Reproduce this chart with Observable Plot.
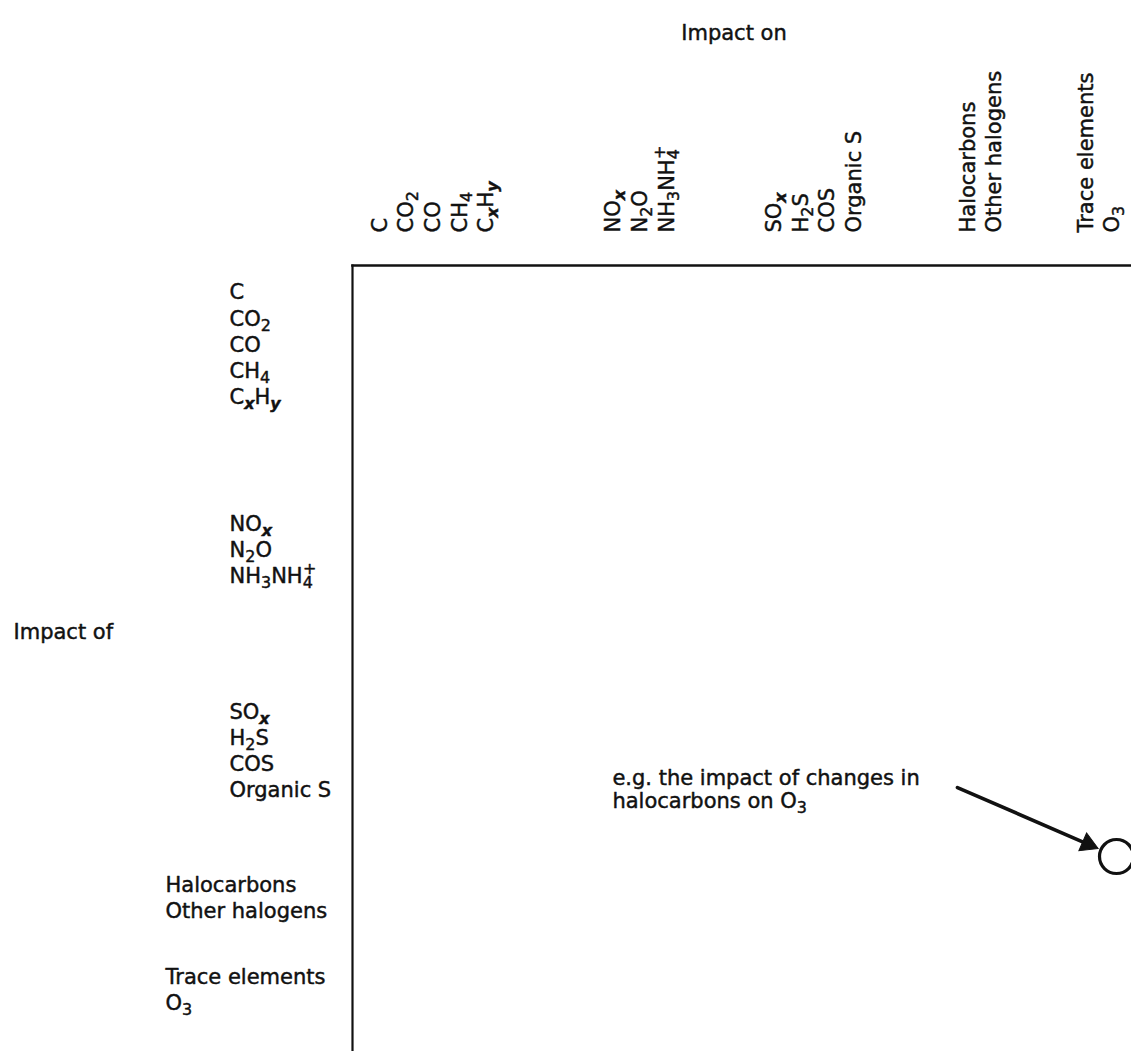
<!DOCTYPE html>
<html>
<head>
<meta charset="utf-8">
<script src="https://cdn.jsdelivr.net/npm/d3@7"></script>
<script src="https://cdn.jsdelivr.net/npm/@observablehq/plot@0.6"></script>
<style>
  html, body { margin: 0; padding: 0; background: #fff; }
  #chart svg { display: block; }
</style>
</head>
<body>
<div id="chart"></div>
<script>
// ---- content (markup: _c = subscript char, ^c = superscript char) ----
const carbonSpecies   = ["C", "CO_2", "CO", "CH_4", "C_xH_y"];
const nitrogenSpecies = ["NO_x", "N_2O", "NH_3NH_4^+"];
const sulphurSpecies  = ["SO_x", "H_2S", "COS", "Organic S"];
const halogenSpecies  = ["Halocarbons", "Other halogens"];
const otherSpecies    = ["Trace elements", "O_3"];
const speciesGroups   = [carbonSpecies, nitrogenSpecies, sulphurSpecies, halogenSpecies, otherSpecies];

const columnTitle = "Impact on";
const rowTitle    = "Impact of";
const noteLines   = ["e.g. the impact of changes in", "halocarbons on O_3"];

// ---- derived table ----
const groups = speciesGroups.map((lines, i) => ({i, text: lines.join("\n")}));

// scales: group index -> position of that group's block
const xOpts = {type: "linear", domain: [0, 1, 2, 3, 4], range: [431, 638, 812, 979, 1097]};
const yOpts = {type: "linear", domain: [0, 1, 2, 3, 4], range: [343, 548, 749, 896, 988]};

// annotation placement, in group-index units of the two scales
const note   = {x: 0.874, y: 2.269, text: noteLines.join("\n")};
const target = {x: 4.161, y: 2.728};
const arrowFrom = {x: 2.868, y: 2.259};

// arrow geometry derived through the scales (line + filled head)
const sx = Plot.scale({x: xOpts}), sy = Plot.scale({y: yOpts});
const P1 = [sx.apply(arrowFrom.x), sy.apply(arrowFrom.y)];
const P2 = [sx.apply(target.x), sy.apply(target.y)];
const len = Math.hypot(P2[0] - P1[0], P2[1] - P1[1]);
const ux = (P2[0] - P1[0]) / len, uy = (P2[1] - P1[1]) / len;
const gap = 20, headR = 7.2, headH = headR * Math.sqrt(Math.PI * 4 / Math.sqrt(3)) * Math.sqrt(3) / 2;
const tip = [P2[0] - gap * ux, P2[1] - gap * uy];
const headC = [tip[0] - headH * 2 / 3 * ux, tip[1] - headH * 2 / 3 * uy];
const lineEnd = [tip[0] - headH * 0.6 * ux, tip[1] - headH * 0.6 * uy];
const arrowLine = {x1: arrowFrom.x, y1: arrowFrom.y, x2: sx.invert(lineEnd[0]), y2: sy.invert(lineEnd[1])};
const arrowHead = {x: sx.invert(headC[0]), y: sy.invert(headC[1]), angle: Math.atan2(uy, ux) * 180 / Math.PI + 90};

const FS = 21;
const INK = "#111";
const textStyle = {fill: INK, stroke: INK, strokeWidth: 0.45};

const chart = Plot.plot({
  width: 1131,
  height: 1051,
  marginTop: 265,
  marginLeft: 352,
  marginRight: 0,
  marginBottom: 0,
  style: {fontFamily: "'DejaVu Sans', sans-serif", fontSize: FS + "px", background: "#fff", color: INK},
  x: {...xOpts, axis: null},
  y: {...yOpts, axis: null},
  marks: [
    Plot.frame({anchor: "top", stroke: INK, strokeWidth: 2.6}),
    Plot.frame({anchor: "left", stroke: INK, strokeWidth: 2.2}),
    // column headings (rotated)
    Plot.text(groups, {
      x: "i", frameAnchor: "top", dy: -33, text: "text", rotate: -90,
      textAnchor: "start", lineAnchor: "middle", lineHeight: 1.27, fontSize: FS, ...textStyle
    }),
    // row headings
    Plot.text(groups.filter(d => d.i < 3), {
      y: "i", frameAnchor: "left", dx: -123, text: "text",
      textAnchor: "start", lineAnchor: "middle", lineHeight: 1.25, fontSize: FS, ...textStyle
    }),
    Plot.text(groups.filter(d => d.i >= 3), {
      y: "i", frameAnchor: "left", dx: -187, text: "text",
      textAnchor: "start", lineAnchor: "middle", lineHeight: 1.27, fontSize: FS, ...textStyle
    }),
    // titles
    Plot.text([columnTitle], {frameAnchor: "top", dx: -8, dy: -240, text: d => d, fontSize: FS, ...textStyle}),
    Plot.text([rowTitle], {frameAnchor: "left", dx: -339, dy: -26, text: d => d, textAnchor: "start", fontSize: FS, ...textStyle}),
    // example annotation
    Plot.text([note], {x: "x", y: "y", text: "text", textAnchor: "start", lineAnchor: "middle", lineHeight: 1.1, fontSize: FS, ...textStyle}),
    Plot.link([arrowLine], {x1: "x1", y1: "y1", x2: "x2", y2: "y2", stroke: INK, strokeWidth: 3.6, strokeLinecap: "round"}),
    Plot.dot([arrowHead], {x: "x", y: "y", symbol: "triangle", r: headR, rotate: "angle", fill: INK, stroke: INK, strokeWidth: 1}),
    Plot.dot([target], {x: "x", y: "y", r: 17, stroke: INK, strokeWidth: 3.2, fill: "#fff"})
  ]
});

// turn _c / ^c markup into real sub/superscript tspans
function enrich(svg) {
  const ns = "http://www.w3.org/2000/svg";
  svg.querySelectorAll("text").forEach(t => {
    const targets = t.querySelector("tspan") ? [...t.querySelectorAll("tspan")] : [t];
    targets.forEach(el => {
      const s = el.textContent;
      if (!/[_^]/.test(s)) return;
      el.textContent = "";
      let buf = "";
      const flush = () => { if (buf) { el.appendChild(document.createTextNode(buf)); buf = ""; } };
      for (let k = 0; k < s.length; k++) {
        const ch = s[k];
        if ((ch === "_" || ch === "^") && k + 1 < s.length) {
          flush();
          const c = s[++k];
          const sp = document.createElementNS(ns, "tspan");
          sp.textContent = c;
          sp.setAttribute("font-size", "0.76em");
          if (ch === "_") {
            sp.setAttribute("baseline-shift", "-5px");
          } else {
            sp.setAttribute("baseline-shift", "9px");
            sp.setAttribute("dx", "-0.62em");
          }
          if (/[a-z]/.test(c)) { sp.setAttribute("font-style", "italic"); sp.setAttribute("font-weight", "bold"); }
          el.appendChild(sp);
        } else {
          buf += ch;
        }
      }
      flush();
    });
  });
}
enrich(chart);
document.getElementById("chart").appendChild(chart);
</script>
</body>
</html>
